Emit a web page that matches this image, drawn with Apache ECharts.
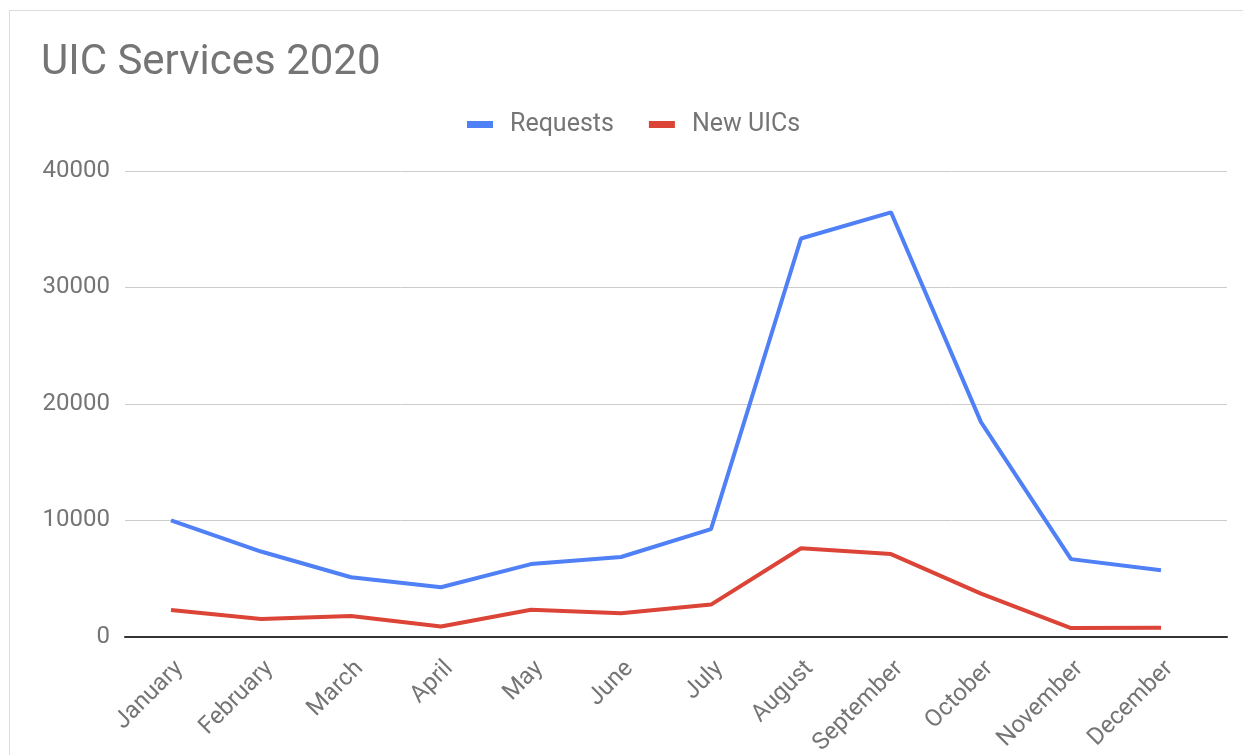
<!DOCTYPE html>
<html>
<head>
<meta charset="utf-8">
<script src="https://cdn.jsdelivr.net/npm/echarts@6/dist/echarts.min.js"></script>
<style>
  html, body { margin: 0; padding: 0; background: #fff; }
  #frame { position: absolute; left: 9px; top: 10px; width: 1300px; height: 800px; border-left: 1px solid #dcdcdc; border-top: 1px solid #dcdcdc; }
  #chart { position: absolute; left: 0; top: 0; width: 1243px; height: 755px; }
</style>
</head>
<body>
<div id="frame"></div>
<div id="chart"></div>
<script>
const titleText = 'UIC Services 2020';
const months = ['January', 'February', 'March', 'April', 'May', 'June', 'July', 'August', 'September', 'October', 'November', 'December'];
const requests = [9980, 7300, 5090, 4230, 6220, 6830, 9220, 34200, 36450, 18420, 6650, 5700];
const newUICs = [2280, 1500, 1760, 860, 2300, 1990, 2740, 7580, 7080, 3690, 720, 760];
const yTicks = [0, 10000, 20000, 30000, 40000];

const labelColor = '#757575';
const font = 'Roboto';
const gridTop = 171;
const gridBottom = 755 - 636.5;

const chart = echarts.init(document.getElementById('chart'));
chart.setOption({
  animation: false,
  backgroundColor: 'transparent',
  title: {
    text: titleText,
    left: 36, top: 37,
    textStyle: { fontFamily: font, fontSize: 42, fontWeight: 'normal', color: labelColor }
  },
  legend: {
    data: ['Requests', 'New UICs'],
    left: 467, top: 112,
    itemWidth: 26, itemHeight: 7, itemGap: 35,
    icon: 'rect',
    padding: 0,
    textStyle: { fontFamily: font, fontSize: 25, color: labelColor, padding: [0, 0, 0, 12] }
  },
  grid: [
    { left: 126, right: 37, top: gridTop, bottom: gridBottom, containLabel: false, outerBoundsMode: 'none' },
    { left: 125, right: 16, top: gridTop, bottom: gridBottom, containLabel: false, outerBoundsMode: 'none' }
  ],
  xAxis: [
    {
      type: 'category', gridIndex: 0, data: months, boundaryGap: true,
      axisLine: { show: false }, axisTick: { show: false },
      axisLabel: { rotate: 45, fontFamily: font, fontSize: 24, color: labelColor, margin: 20, interval: 0, verticalAlign: 'top' }
    },
    {
      type: 'value', gridIndex: 1, min: 0, max: 1,
      axisLine: { show: true, onZero: false, lineStyle: { color: '#333', width: 2 } },
      axisTick: { show: false }, axisLabel: { show: false }, splitLine: { show: false }
    }
  ],
  yAxis: [
    {
      type: 'value', gridIndex: 0, min: yTicks[0], max: yTicks[yTicks.length - 1], interval: 10000,
      axisLine: { show: false }, axisTick: { show: false }, axisLabel: { show: false }, splitLine: { show: false }
    },
    {
      type: 'value', gridIndex: 1, min: yTicks[0], max: yTicks[yTicks.length - 1], interval: 10000,
      axisLine: { show: false }, axisTick: { show: false },
      axisLabel: { fontFamily: font, fontSize: 24, color: labelColor, margin: 15, formatter: v => String(v) },
      splitLine: { show: true, lineStyle: { color: '#cccccc', width: 1 } }
    }
  ],
  series: [
    {
      name: 'Requests', type: 'line', xAxisIndex: 0, yAxisIndex: 0, data: requests,
      symbol: 'none', lineStyle: { width: 4, color: '#4f80f5' }, itemStyle: { color: '#4f80f5' }, z: 3
    },
    {
      name: 'New UICs', type: 'line', xAxisIndex: 0, yAxisIndex: 0, data: newUICs,
      symbol: 'none', lineStyle: { width: 4, color: '#db4437' }, itemStyle: { color: '#db4437' }, z: 3
    }
  ]
});
</script>
</body>
</html>
